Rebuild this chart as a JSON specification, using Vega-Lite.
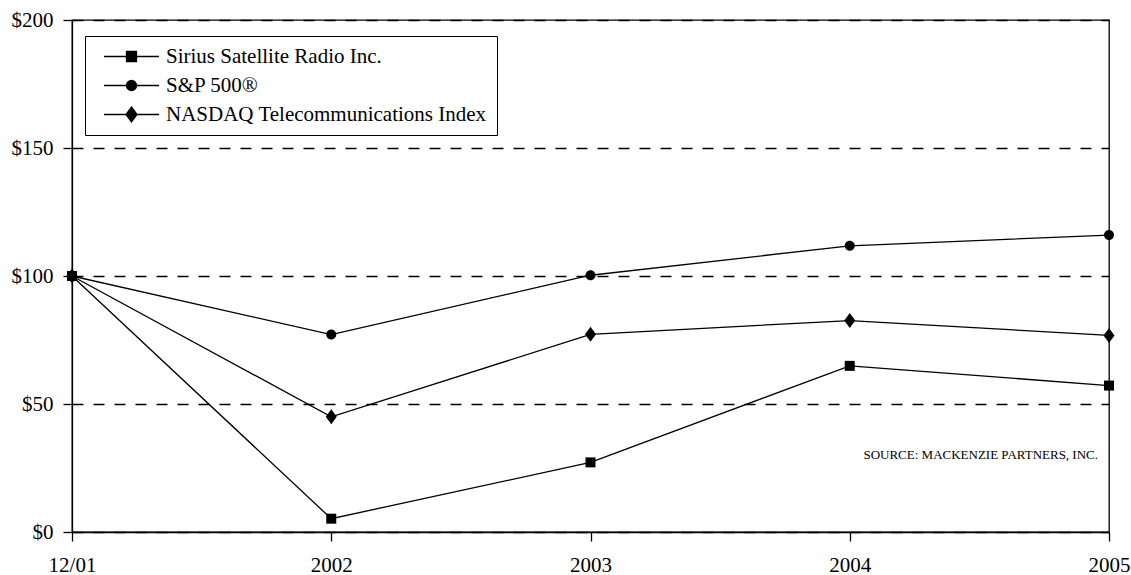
{
  "$schema": "https://vega.github.io/schema/vega-lite/v6.json",
  "width": 1037,
  "height": 512,
  "autosize": "none",
  "padding": {"left": 72, "top": 20, "right": 22, "bottom": 43},
  "background": "white",
  "config": {
    "font": "Liberation Serif",
    "view": {"stroke": "black", "strokeWidth": 1.3}
  },
  "data": {
    "values": [
      {"period": "12/01", "series": "Sirius Satellite Radio Inc.", "value": 100},
      {"period": "2002", "series": "Sirius Satellite Radio Inc.", "value": 5.2},
      {"period": "2003", "series": "Sirius Satellite Radio Inc.", "value": 27.2},
      {"period": "2004", "series": "Sirius Satellite Radio Inc.", "value": 64.9},
      {"period": "2005", "series": "Sirius Satellite Radio Inc.", "value": 57.2},
      {"period": "12/01", "series": "S&P 500®", "value": 100},
      {"period": "2002", "series": "S&P 500®", "value": 77.1},
      {"period": "2003", "series": "S&P 500®", "value": 100.3},
      {"period": "2004", "series": "S&P 500®", "value": 111.8},
      {"period": "2005", "series": "S&P 500®", "value": 116.0},
      {"period": "12/01", "series": "NASDAQ Telecommunications Index", "value": 100},
      {"period": "2002", "series": "NASDAQ Telecommunications Index", "value": 45.0},
      {"period": "2003", "series": "NASDAQ Telecommunications Index", "value": 77.2},
      {"period": "2004", "series": "NASDAQ Telecommunications Index", "value": 82.6},
      {"period": "2005", "series": "NASDAQ Telecommunications Index", "value": 76.8}
    ]
  },
  "resolve": {"scale": {"shape": "independent"}, "legend": {"shape": "independent"}},
  "layer": [
    {
      "mark": {"type": "line", "color": "black", "strokeWidth": 1.3},
      "encoding": {
        "x": {
          "field": "period", "type": "ordinal", "sort": null,
          "scale": {"type": "point", "padding": 0},
          "axis": {
            "title": null, "labelAngle": 0, "tickSize": 9, "labelPadding": 13,
            "labelFontSize": 21, "labelColor": "black", "labelFont": "Liberation Serif",
            "domainColor": "black", "tickColor": "black", "domainWidth": 1.3, "tickWidth": 1.3,
            "grid": false
          }
        },
        "y": {
          "field": "value", "type": "quantitative",
          "scale": {"domain": [0, 200], "nice": false},
          "axis": {
            "title": null, "values": [0, 50, 100, 150, 200], "labelExpr": "'$' + datum.value",
            "tickSize": 9, "labelPadding": 10, "labelFontSize": 21, "labelColor": "black",
            "labelFont": "Liberation Serif",
            "domainColor": "black", "tickColor": "black", "domainWidth": 1.3, "tickWidth": 1.3,
            "grid": true, "gridColor": "black", "gridDash": [11, 10], "gridWidth": 1.3, "gridOpacity": 1
          }
        },
        "detail": {"field": "series"}
      }
    },
    {
      "mark": {"type": "point", "filled": true, "color": "black", "opacity": 1, "size": 100},
      "encoding": {
        "x": {"field": "period", "type": "ordinal", "sort": null},
        "y": {"field": "value", "type": "quantitative"},
        "shape": {
          "field": "series", "type": "nominal",
          "scale": {
            "domain": ["Sirius Satellite Radio Inc.", "S&P 500®", "NASDAQ Telecommunications Index"],
            "range": [
              "M-1,-1H1V1H-1Z",
              "M-1,0A1,1,0,1,0,1,0A1,1,0,1,0,-1,0Z",
              "M0,-1.5L1.1,0L0,1.5L-1.1,0Z"
            ]
          },
          "legend": null
        }
      }
    },
    {
      "mark": {"type": "point", "filled": false, "color": "black", "strokeWidth": 1.3, "opacity": 1, "size": 0},
      "encoding": {
        "x": {"field": "period", "type": "ordinal", "sort": null},
        "y": {"field": "value", "type": "quantitative"},
        "shape": {
          "field": "series", "type": "nominal",
          "scale": {
            "domain": ["Sirius Satellite Radio Inc.", "S&P 500®", "NASDAQ Telecommunications Index"],
            "range": [
              "M-5.5,0H5.5M-1,-1H1V1H-1ZM-1,-0.88H1M-1,-0.63H1M-1,-0.38H1M-1,-0.13H1M-1,0.12H1M-1,0.37H1M-1,0.62H1M-1,0.87H1",
              "M-5.5,0H5.5M-1,0A1,1,0,1,0,1,0A1,1,0,1,0,-1,0M-0.48,-0.875H0.48M-0.78,-0.625H0.78M-0.93,-0.375H0.93M-0.99,-0.125H0.99M-0.99,0.125H0.99M-0.93,0.375H0.93M-0.78,0.625H0.78M-0.48,0.875H0.48",
              "M-5.5,0H5.5M0,-1.5L1.1,0L0,1.5L-1.1,0ZM-0.09,-1.375H0.09M-0.27,-1.125H0.27M-0.46,-0.875H0.46M-0.64,-0.625H0.64M-0.82,-0.375H0.82M-1,-0.125H1M-1,0.125H1M-0.82,0.375H0.82M-0.64,0.625H0.64M-0.46,0.875H0.46M-0.27,1.125H0.27M-0.09,1.375H0.09"
            ]
          },
          "legend": {
            "title": null,
            "orient": "none",
            "legendX": 13,
            "legendY": 16,
            "padding": 10,
            "strokeColor": "black",
            "fillColor": "white",
            "labelFontSize": 21,
            "labelFont": "Liberation Serif",
            "labelColor": "black",
            "labelLimit": 600,
            "rowPadding": 7,
            "symbolSize": 100,
            "symbolOffset": 26,
            "labelOffset": 24,
            "symbolStrokeColor": "black",
            "symbolStrokeWidth": 1.3,
            "symbolOpacity": 1
          }
        }
      }
    },
    {
      "data": {"values": [{"note": "SOURCE: MACKENZIE PARTNERS, INC.", "period": "2005", "value": 30}]},
      "mark": {"type": "text", "align": "right", "baseline": "middle", "dx": -11, "fontSize": 13, "font": "Liberation Serif", "color": "black"},
      "encoding": {
        "x": {"field": "period", "type": "ordinal", "sort": null},
        "y": {"field": "value", "type": "quantitative"},
        "text": {"field": "note"}
      }
    }
  ]
}
